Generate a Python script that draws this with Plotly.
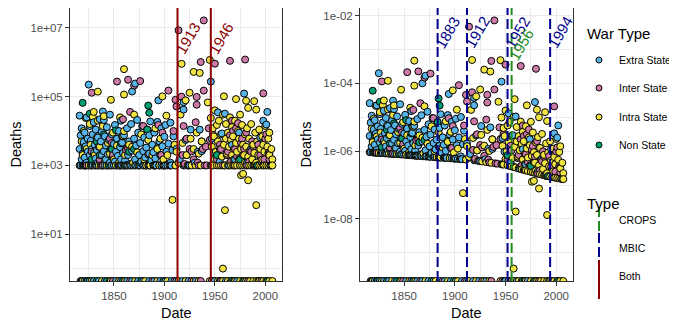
import numpy as np
import plotly.graph_objects as go
from plotly.subplots import make_subplots

# Extra State wars (start year, battle deaths)
extra_year = [
    1816, 1816, 1817, 1817, 1818, 1818, 1819, 1819, 1820, 1820,
    1821, 1821, 1822, 1822, 1823, 1823, 1824, 1824, 1825, 1825,
    1826, 1826, 1827, 1827, 1828, 1828, 1829, 1829, 1830, 1830,
    1831, 1831, 1832, 1832, 1833, 1833, 1834, 1834, 1835, 1835,
    1836, 1836, 1837, 1837, 1838, 1838, 1839, 1839, 1840, 1840,
    1841, 1841, 1842, 1842, 1843, 1843, 1844, 1845, 1845, 1846,
    1846, 1847, 1848, 1848, 1849, 1850, 1850, 1851, 1851, 1852,
    1852, 1853, 1854, 1854, 1855, 1856, 1856, 1857, 1857, 1858,
    1858, 1859, 1860, 1860, 1861, 1862, 1862, 1863, 1864, 1864,
    1865, 1866, 1867, 1867, 1868, 1868, 1869, 1870, 1871, 1871,
    1872, 1872, 1873, 1874, 1874, 1875, 1876, 1876, 1877, 1878,
    1879, 1879, 1880, 1880, 1881, 1882, 1882, 1883, 1884, 1885,
    1885, 1886, 1886, 1887, 1888, 1889, 1889, 1890, 1890, 1891,
    1892, 1893, 1893, 1894, 1895, 1895, 1896, 1897, 1897, 1898,
    1899, 1900, 1901, 1901, 1902, 1903, 1904, 1906, 1906, 1907,
    1908, 1909, 1911, 1912, 1915, 1919, 1919, 1920, 1921, 1922,
    1925, 1926, 1930, 1933, 1935, 1937, 1946, 1947, 1947, 1949,
    1953, 1955, 1957, 1960, 1962, 1964, 1967, 1970, 1974, 1979,
    1982, 1986, 1990, 1995, 1998, 2001, 2002, 2004, 2006,
]
extra_deaths = [
    28000, 3000, 1000, 7500, 1500, 12000, 2200, 1000, 4800, 1000,
    9000, 1700, 1000, 3600, 25000, 1200, 2500, 6000, 224000, 1000,
    14000, 2000, 1000, 5200, 3000, 1300, 8000, 1000, 2300, 18000,
    1000, 4000, 1600, 11000, 1000, 2800, 6500, 1200, 1000, 3500,
    22000, 1400, 1000, 5000, 2000, 9500, 37000, 1000, 21000, 2600,
    1000, 7000, 1500, 3800, 1000, 13000, 2100, 1000, 5500, 1200,
    30000, 3000, 1000, 8000, 1800, 1000, 4200, 15000, 1300, 1000,
    2500, 6000, 1000, 1900, 10000, 1000, 3400, 1500, 20000, 1000,
    4600, 2300, 1000, 7500, 1400, 1000, 3000, 12000, 1000, 2000,
    5000, 1100, 1000, 16000, 141000, 2700, 1000, 6000, 240000, 1500,
    1000, 3800, 21000, 1000, 9000, 2000, 1000, 4500, 1300, 14000,
    1000, 2600, 1000, 6500, 1700, 1000, 3300, 11000, 1000, 2200,
    7500, 19000, 1000, 1400, 4000, 1000, 2400, 1000, 9000, 1600,
    1000, 18500, 3200, 78000, 1000, 5000, 2000, 1000, 12000, 3600,
    1000, 6800, 15000, 1000, 2500, 1000, 4300, 17500, 1200, 1000,
    2800, 7000, 1000, 3000, 1500, 69000, 42000, 1000, 5500, 2000,
    1000, 11000, 1200, 2500, 11000, 2600, 275000, 6000, 1000, 2400,
    35000, 1300, 8500, 32000, 2000, 1000, 4000, 1500, 9000, 123000,
    1200, 3000, 1000, 6500, 20000, 15500, 36000, 2200, 1000,
]

# Inter State wars
inter_year = [
    1823, 1828, 1828, 1836, 1839, 1846, 1848, 1849, 1853, 1856,
    1859, 1860, 1862, 1864, 1864, 1866, 1870, 1876, 1879, 1882,
    1884, 1885, 1894, 1897, 1898, 1899, 1904, 1906, 1909, 1911,
    1912, 1914, 1917, 1918, 1919, 1920, 1922, 1924, 1925, 1927,
    1929, 1931, 1932, 1932, 1933, 1934, 1936, 1937, 1938, 1939,
    1939, 1940, 1941, 1942, 1944, 1945, 1948, 1950, 1952, 1955,
    1956, 1958, 1960, 1962, 1963, 1965, 1965, 1966, 1967, 1968,
    1969, 1970, 1971, 1972, 1973, 1974, 1975, 1976, 1977, 1978,
    1979, 1980, 1981, 1982, 1984, 1986, 1987, 1988, 1989, 1991,
    1993, 1995, 1997, 1998, 1999, 2000, 2001, 2003, 2004, 2005,
]
inter_deaths = [
    1000, 130000, 2500, 1500, 1000, 6000, 4500, 2000, 275000, 1000,
    22000, 1000, 2800, 310000, 3000, 36000, 210000, 285000, 14000, 1000,
    2100, 1000, 15000, 2000, 9000, 1000, 150000, 1000, 10000, 81000,
    52000, 8500000, 100000, 2000, 14000, 1100, 6000, 1000, 3000, 2600,
    1500, 18000, 98000, 58000, 1200, 1000, 1020000, 5000, 3000, 16500000,
    150000, 1000, 3500, 1000, 12000, 5500, 8000, 910000, 1500, 4000,
    3000, 1000, 1000, 2000, 2500, 1100000, 7500, 1300, 20000, 10000,
    1000, 3000, 12000, 1800, 17000, 1500, 1000, 4500, 6000, 2000,
    3000, 1200000, 9000, 1000, 1300, 2500, 5000, 3500, 1000, 1000,
    4000, 2000, 1200, 125000, 1500, 6000, 8000, 2300, 1500, 1000,
]

# Intra State wars
intra_year = [
    1816, 1818, 1819, 1820, 1821, 1822, 1823, 1825, 1826, 1827,
    1828, 1829, 1830, 1831, 1832, 1833, 1834, 1834, 1835, 1836,
    1838, 1839, 1840, 1841, 1843, 1844, 1846, 1847, 1847, 1849,
    1850, 1852, 1853, 1855, 1856, 1857, 1859, 1860, 1860, 1860,
    1861, 1863, 1865, 1866, 1868, 1869, 1870, 1871, 1873, 1875,
    1877, 1880, 1882, 1884, 1886, 1888, 1891, 1891, 1893, 1895,
    1896, 1898, 1899, 1900, 1902, 1903, 1905, 1908, 1910, 1911,
    1912, 1914, 1916, 1917, 1918, 1919, 1921, 1922, 1923, 1925,
    1926, 1927, 1929, 1929, 1931, 1932, 1934, 1935, 1936, 1937,
    1943, 1945, 1946, 1946, 1947, 1948, 1948, 1949, 1950, 1950,
    1951, 1952, 1952, 1953, 1954, 1954, 1955, 1956, 1956, 1957,
    1958, 1958, 1959, 1959, 1960, 1960, 1961, 1961, 1962, 1963,
    1963, 1964, 1965, 1965, 1966, 1966, 1967, 1967, 1968, 1968,
    1969, 1969, 1970, 1970, 1971, 1971, 1972, 1972, 1973, 1974,
    1974, 1975, 1975, 1976, 1976, 1977, 1977, 1978, 1978, 1979,
    1979, 1980, 1980, 1981, 1981, 1981, 1982, 1983, 1983, 1983,
    1984, 1984, 1985, 1986, 1986, 1987, 1988, 1988, 1989, 1989,
    1990, 1990, 1991, 1991, 1991, 1992, 1992, 1993, 1994, 1994,
    1995, 1996, 1997, 1997, 1998, 1998, 1999, 1999, 2000, 2001,
    2002, 2003, 2003, 2004, 2004, 2005, 2006, 2007, 2007,
]
intra_deaths = [
    1000, 5000, 2000, 10000, 1000, 24000, 3000, 1000, 16000, 4000,
    1000, 26000, 36000, 2000, 1000, 6500, 140000, 20000, 1000, 3500,
    1000, 14000, 27000, 1500, 1000, 4500, 2200, 81000, 1000, 9000,
    1500, 1000, 3800, 1200, 25000, 1000, 7000, 115000, 630000, 10000,
    2000, 1000, 4000, 1000, 3500, 1200, 30000, 1000, 2400, 1000,
    8000, 1500, 1000, 5500, 1000, 2000, 12000, 1000, 3000, 1000,
    6000, 102000, 1500, 1000, 28000, 2000, 1000, 100, 4000, 1000,
    2500, 1200, 30000, 900000, 4500, 1000, 78000, 2000, 1000, 130000,
    6000, 1000, 525000, 3000, 1000, 9000, 2200, 490000, 1000, 5000,
    68000, 1170000, 1000, 24000, 3500, 1000, 12000, 7000, 1500, 40000,
    2500, 1000, 15000, 5000, 1000, 20000, 3000, 8000, 1000, 1800,
    1, 30000, 102000, 4000, 50, 1000, 6000, 16000, 2200, 1000,
    9000, 3500, 1200, 25000, 1000, 5500, 13000, 2000, 1000, 7000,
    3000, 1500, 20000, 1000, 85000, 4500, 1000, 2500, 10000, 1400,
    6000, 1000, 30000, 520, 3000, 1000, 15000, 570, 4000, 1000,
    2000, 8000, 1200, 76000, 1000, 3500, 12000, 370, 47000, 1800,
    1000, 6000, 2800, 1000, 16000, 1500, 4000, 1000, 74000, 2300,
    1000, 9000, 70, 42000, 1200, 5000, 1000, 2000, 1000, 11000,
    3000, 1000, 7000, 1500, 1000, 4000, 2500, 1000, 14000, 1000,
    3500, 1000, 6000, 2000, 9000, 1000, 3000, 1500, 1000,
]

# Non State wars
non_year = [
    1819, 1821, 1822, 1826, 1828, 1833, 1836, 1840, 1845, 1848,
    1852, 1855, 1857, 1858, 1861, 1865, 1870, 1876, 1883, 1884,
    1885, 1890, 1952, 1975, 1992,
]
non_deaths = [
    66000, 3200, 1000, 32000, 1500, 5000, 2000, 8000, 1000, 3000,
    10500, 1000, 4400, 7000, 1000, 2500, 3000, 1200, 11000, 55000,
    34000, 1000, 2000, 1500, 1000,
]

# wars with zero recorded deaths (shown at the bottom edge)
extra_zero = [1817, 1821, 1826, 1830, 1835, 1841, 1846, 1852, 1857, 1863,
              1868, 1874, 1879, 1885, 1890, 1896, 1901, 1907, 1912, 1918,
              1924, 1931, 1950, 1961, 1972]
inter_zero = [1823, 1849, 1866, 1888, 1910, 1927, 1936, 1947, 1956, 1969,
              1983, 1996]
intra_zero = [1819, 1828, 1838, 1847, 1855, 1861, 1871, 1881, 1893, 1903,
              1914, 1921, 1929, 1934, 1945, 1949, 1953, 1958, 1963, 1966,
              1970, 1975, 1978, 1981, 1985, 1988, 1991, 1994, 1998, 2001,
              2004, 2007]
non_zero = [1818, 1824, 1833, 1843, 1859, 1877, 1899, 1955, 1967, 1979,
            1993, 2002]

# world population, used for the per-capita panel
pop_year = [1800, 1850, 1900, 1920, 1940, 1950, 1960, 1970, 1980, 1990, 2000, 2010]
pop_world = [0.98e9, 1.26e9, 1.65e9, 1.86e9, 2.30e9, 2.53e9, 3.03e9, 3.70e9,
             4.45e9, 5.31e9, 6.13e9, 6.92e9]

# changepoints
both_cpts = [1913, 1946]
mbic_cpts = [1883, 1912, 1952, 1994]
crops_cpts = [1956]

x_ticks = [1850, 1900, 1950, 2000]
x_minor = [1825, 1875, 1925, 1975]
left_ticks = [1e1, 1e3, 1e5, 1e7]
left_ticktext = ["1e+01", "1e+03", "1e+05", "1e+07"]
left_minor = [1e0, 1e2, 1e4, 1e6]
right_ticks = [1e-8, 1e-6, 1e-4, 1e-2]
right_ticktext = ["1e-08", "1e-06", "1e-04", "1e-02"]
right_minor = [1e-9, 1e-7, 1e-5, 1e-3]

WARS = {
    "Extra State": (extra_year, extra_deaths, extra_zero, "#56B4E9"),
    "Inter State": (inter_year, inter_deaths, inter_zero, "#CC79A7"),
    "Intra State": (intra_year, intra_deaths, intra_zero, "#F0E442"),
    "Non State": (non_year, non_deaths, non_zero, "#009E73"),
}
CPT_STYLE = {
    "CROPS": ("#228B22", "10px,4px"),
    "MBIC": ("#00008B", "10px,4px"),
    "Both": ("#8B0000", "solid"),
}
FONT = "Liberation Sans, Arial, sans-serif"
# the page body has an 8px margin, so the figure is 8px smaller and all
# page-pixel positions below are shifted by that offset
OFF = 8
W, H = 677 - OFF, 327 - OFF
TOP, BOTTOM = 8, 281  # panel edges in page pixels


def px(p):
    return (p - OFF) / W


def py(p):
    return (BOTTOM - p) / (BOTTOM - TOP)


def per_capita(years, deaths):
    return np.asarray(deaths, float) / np.interp(years, pop_year, pop_world)


def log_range(values):
    v = np.log10(np.asarray(values, float))
    pad = 0.05 * (v.max() - v.min())
    return [v.min() - pad, v.max() + pad]


def note(x, y, text, font, **kw):
    kw.setdefault("xanchor", "center")
    kw.setdefault("xref", "paper")
    kw.setdefault("yref", "paper")
    fig.add_annotation(x=x, y=y, text=text, showarrow=False, yanchor="middle",
                       font=font, **kw)


# one long table, drawn in date order so the colours interleave
years = np.concatenate([yr + z for yr, _, z, _ in WARS.values()])
deaths = np.concatenate([d + [0] * len(z) for _, d, z, _ in WARS.values()]).astype(float)
colors = np.concatenate([[c] * (len(yr) + len(z)) for yr, _, z, c in WARS.values()])
order = np.argsort(years, kind="stable")
years, deaths, colors = years[order], deaths[order], colors[order]

xpad = 0.05 * (years.max() - years.min())
x_range = [years.min() - xpad, years.max() + xpad]

fig = make_subplots(rows=1, cols=2)

y_ranges = []
for col, vals in enumerate([deaths, per_capita(years, deaths)], start=1):
    rng = log_range(vals[vals > 0])
    y_ranges.append(rng)
    fig.add_trace(
        go.Scatter(
            x=years,
            y=np.where(vals > 0, vals, 10 ** rng[0]),
            mode="markers",
            marker=dict(size=7, color=colors, line=dict(color="black", width=1)),
            showlegend=False,
        ),
        row=1,
        col=col,
    )

grid = "#EBEBEB"
axis_common = dict(
    showline=True, mirror=True, linecolor="#333333", linewidth=1,
    ticks="outside", ticklen=4, tickcolor="#333333", tickwidth=1,
    tickfont=dict(family=FONT, size=11.5, color="#4D4D4D"),
    showgrid=True, gridcolor=grid, gridwidth=1, zeroline=False, automargin=False,
)
doms = [[px(70), px(282)], [px(360), px(573)]]
for col in (1, 2):
    fig.update_xaxes(
        range=x_range, tickvals=x_ticks, domain=doms[col - 1],
        minor=dict(tickvals=x_minor, showgrid=True, gridcolor=grid, gridwidth=0.5),
        row=1, col=col, **axis_common,
    )
fig.update_yaxes(
    type="log", range=y_ranges[0], tickvals=left_ticks, ticktext=left_ticktext,
    minor=dict(tickvals=left_minor, showgrid=True, gridcolor=grid, gridwidth=0.5),
    row=1, col=1, **axis_common,
)
fig.update_yaxes(
    type="log", range=y_ranges[1], tickvals=right_ticks, ticktext=right_ticktext,
    minor=dict(tickvals=right_minor, showgrid=True, gridcolor=grid, gridwidth=0.5),
    row=1, col=2, **axis_common,
)

# changepoint lines + labels
cpt_sets = [
    ("x", "y", [("Both", both_cpts, 0.89)]),
    ("x2", "y2", [("MBIC", mbic_cpts, 0.91), ("CROPS", crops_cpts, 0.865)]),
]
for xref, yref, groups in cpt_sets:
    for kind, cpts, ylab in groups:
        color, dash = CPT_STYLE[kind]
        for c in cpts:
            fig.add_shape(
                type="line", xref=xref, yref=f"{yref} domain", x0=c, x1=c, y0=0, y1=1,
                line=dict(color=color, width=2, dash=dash),
            )
            note(c, ylab, str(c), dict(family=FONT, size=15, color=color),
                 xref=xref, yref=f"{yref} domain", textangle=-60, xshift=10)

# axis titles
title_font = dict(family=FONT, size=14.5, color="black")
for dom in doms:
    note(sum(dom) / 2, py(313), "Date", title_font)
for xp in (15, 305):
    note(px(xp), 0.5, "Deaths", title_font, textangle=-90)

# legends
item_font = dict(family=FONT, size=10.5, color="black")
note(px(585), py(33), "War Type", dict(title_font, size=15), xanchor="left")
for (name, (_, _, _, color)), ypx in zip(WARS.items(), [60, 88, 117, 145]):
    fig.add_shape(
        type="circle", xref="paper", yref="paper", xsizemode="pixel", ysizemode="pixel",
        xanchor=px(599), yanchor=py(ypx), x0=-3, x1=3, y0=-3, y1=3,
        fillcolor=color, line=dict(color="black", width=1),
    )
    note(px(617), py(ypx), name, item_font, xanchor="left")

note(px(585), py(203), "Type", dict(title_font, size=15), xanchor="left")
for kind, ypx, (k0, k1) in [("CROPS", 220, (207, 233)), ("MBIC", 248, (233, 260)),
                            ("Both", 276, (260, 299))]:
    color, dash = CPT_STYLE[kind]
    fig.add_shape(type="line", xref="paper", yref="paper", x0=px(599), x1=px(599),
                  y0=py(k0), y1=py(k1), line=dict(color=color, width=2, dash=dash))
    note(px(617), py(ypx), kind, item_font, xanchor="left")

fig.update_layout(
    width=W, height=H,
    margin=dict(l=0, r=0, t=TOP - OFF, b=(H + OFF) - BOTTOM),
    plot_bgcolor="white", paper_bgcolor="white",
    showlegend=False,
    font=dict(family=FONT),
)

fig.write_html("out.html")
